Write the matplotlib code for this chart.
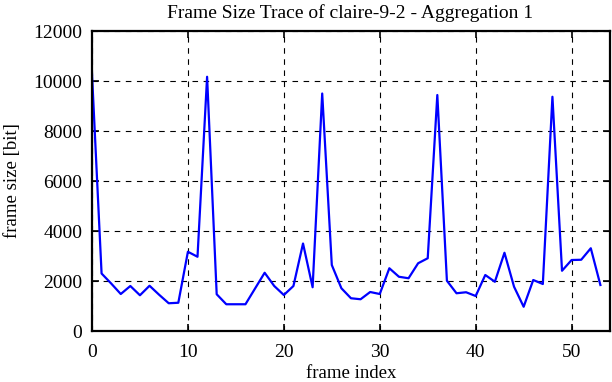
import matplotlib
matplotlib.use("Agg")
import matplotlib.pyplot as plt

# frame sizes (bits), one per frame index
frame_index = list(range(54))
frame_size = [10300, 2300, 1900, 1480, 1800, 1430, 1810, 1450, 1110, 1130,
              3170, 2970, 10170, 1470, 1070, 1070, 1070, 1700, 2330, 1800,
              1440, 1800, 3500, 1750, 9500, 2640, 1710, 1310, 1270, 1560,
              1480, 2510, 2170, 2110, 2710, 2910, 9440, 2010, 1510, 1550,
              1400, 2240, 1970, 3130, 1770, 970, 2040, 1880, 9370, 2410,
              2840, 2850, 3310, 1840]

xticks = [0, 10, 20, 30, 40, 50]
yticks = [0, 2000, 4000, 6000, 8000, 10000, 12000]

plt.rcParams['font.family'] = ['Liberation Serif', 'DejaVu Serif']
plt.rcParams['font.size'] = 14

fig = plt.figure(figsize=(6.12, 3.82), dpi=100, facecolor='white')
ax = fig.add_axes([0.1503, 0.1335, 0.9967 - 0.1503, 0.9188 - 0.1335])

ax.plot(frame_index, frame_size, color=(0, 0, 1), lw=1.6)

ax.set_xlim(0, 54)
ax.set_ylim(0, 12000)
ax.set_xticks(xticks)
ax.set_yticks(yticks)
ax.grid(True, color='black', ls=(0, (5, 5)), lw=0.8)
ax.tick_params(direction='in', top=True, right=True, length=5, width=1.2)
ax.tick_params(axis='y', pad=7)
ax.tick_params(axis='x', pad=9)
for s in ax.spines.values():
    s.set_linewidth(1.6)

ax.set_xlabel('frame index', fontsize=13.5)
ax.set_ylabel('frame size [bit]', fontsize=13.5)
# label positions in axes fraction (axes is ~518 x 300 px)
ax.xaxis.set_label_coords(0.5, -0.113)
ax.yaxis.set_label_coords(-0.137, 0.5)
fig.text(350 / 612, 1 - 13 / 382, 'Frame Size Trace of claire-9-2 - Aggregation 1',
         ha='center', va='center', fontsize=14)

fig.savefig('out.png', dpi=100)
